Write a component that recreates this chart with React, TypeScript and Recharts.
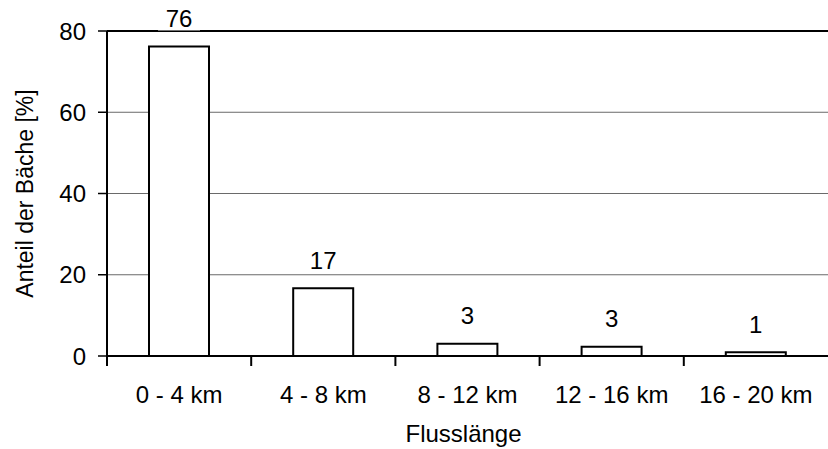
import { Bar, BarChart, CartesianGrid, Label, LabelList, ReferenceLine, XAxis, YAxis } from "recharts";

const categories = ["0 - 4 km", "4 - 8 km", "8 - 12 km", "12 - 16 km", "16 - 20 km"];
const shares = [76.2, 16.7, 3.0, 2.3, 0.9];
const shareLabels = ["76", "17", "3", "3", "1"];
const yTicks = [0, 20, 40, 60, 80];

const FONT = "'Liberation Sans', Arial, sans-serif";
const FS = 24;

const data = categories.map((name, i) => ({ name, share: shares[i], label: shareLabels[i] }));

function XTick(props: any) {
	const { x, y, payload } = props;
	const left = x - (payload.offset || 0);
	return (
		<g>
			<line x1={left} x2={left} y1={y} y2={y + 10} stroke="#000" strokeWidth={2} />
			<text x={x} y={y + 38} textAnchor="middle" dominantBaseline="central" fontSize={FS} fontFamily={FONT} fill="#000">
				{payload.value}
			</text>
		</g>
	);
}

function BarValue(props: any) {
	const { x, y, width, index } = props;
	const cx = x + width / 2;
	const cy = y - 28;
	return (
		<g>
			<rect x={cx - 21} y={cy - 12} width={42} height={24} fill="#fff" />
			<text x={cx} y={cy} textAnchor="middle" dominantBaseline="central" fontSize={FS} fontFamily={FONT} fill="#000">
				{shareLabels[index]}
			</text>
		</g>
	);
}

export default function App() {
	return (
		<div style={{ position: "absolute", left: 0, top: 0, background: "#fff" }}>
			<BarChart width={828} height={449} data={data} margin={{ top: 31, right: 0, bottom: 0, left: 0 }}>
				<CartesianGrid vertical={false} stroke="#6a6a6a" strokeWidth={1} />
				<ReferenceLine y={80} stroke="#000" strokeWidth={2} />
				<XAxis
					dataKey="name"
					height={93}
					axisLine={{ stroke: "#000", strokeWidth: 2 }}
					tickLine={false}
					tickSize={0}
					tickMargin={0}
					tick={<XTick />}
					interval={0}
				>
					<Label
						content={(p: any) => {
							const vb = p.viewBox;
							return (
								<text x={vb.x + vb.width / 2 - 4} y={vb.y + 77} textAnchor="middle" dominantBaseline="central" fontSize={FS} fontFamily={FONT} fill="#000">
									Flusslänge
								</text>
							);
						}}
					/>
				</XAxis>
				<YAxis
					width={107}
					domain={[0, 80]}
					ticks={yTicks}
					axisLine={{ stroke: "#000", strokeWidth: 2 }}
					tickLine={{ stroke: "#000", strokeWidth: 1.5 }}
					tickSize={9}
					tickMargin={12}
					tick={{ fill: "#000", fontSize: FS, fontFamily: FONT }}
				>
					<Label
						content={(p: any) => {
							const vb = p.viewBox;
							const cx = vb.x + 25;
							const cy = vb.y + vb.height / 2;
							return (
								<text x={cx} y={cy} transform={`rotate(-90 ${cx} ${cy})`} textAnchor="middle" dominantBaseline="central" fontSize={23} fontFamily={FONT} fill="#000">
									Anteil der Bäche [%]
								</text>
							);
						}}
					/>
				</YAxis>
				<Bar dataKey="share" barSize={60} fill="#fff" stroke="#000" strokeWidth={2} isAnimationActive={false}>
					<LabelList dataKey="label" content={<BarValue />} />
				</Bar>
			</BarChart>
		</div>
	);
}
